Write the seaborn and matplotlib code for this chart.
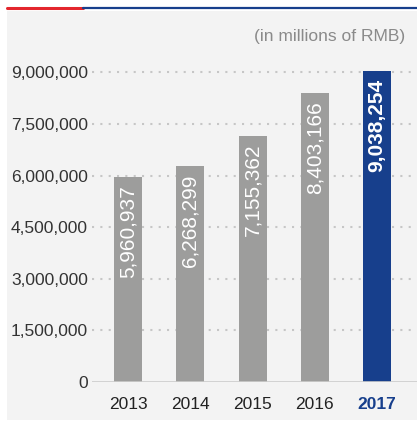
import matplotlib
matplotlib.use("Agg")
import matplotlib.pyplot as plt
import seaborn as sns
import pandas as pd
from matplotlib.patches import Rectangle
from matplotlib.lines import Line2D

# chart data
years = ["2013", "2014", "2015", "2016", "2017"]
values = [5960937, 6268299, 7155362, 8403166, 9038254]
y_ticks = [0, 1500000, 3000000, 4500000, 6000000, 7500000, 9000000]

grey = "#9d9d9c"
blue = "#173f8c"
red = "#e3262d"

sns.set_theme(style="white")
plt.rcParams["font.family"] = ["Liberation Sans", "DejaVu Sans"]

df = pd.DataFrame({"year": years, "value": values})
colors = {y: (blue if y == "2017" else grey) for y in years}

fig = plt.figure(figsize=(4.17, 4.28), dpi=100, facecolor="white")
# background panel and top rule
fig.patches.append(Rectangle((7 / 417, 8 / 428), 410 / 417, 409 / 428,
                             transform=fig.transFigure, facecolor="#f3f3f3",
                             edgecolor="none", zorder=-5))
fig.lines.append(Line2D([7 / 417, 83 / 417], [1 - 8 / 428] * 2, transform=fig.transFigure,
                        color=red, lw=2.2, zorder=-4))
fig.lines.append(Line2D([83 / 417, 1.0], [1 - 8 / 428] * 2, transform=fig.transFigure,
                        color=blue, lw=1.6, zorder=-4))

ax = fig.add_axes([92 / 417, 46 / 428, 325 / 417, 320 / 428])
ax.set_zorder(2)
ax.set_facecolor("none")

sns.barplot(data=df, x="year", y="value", hue="year", palette=colors, legend=False,
            width=0.45, saturation=1, linewidth=0, edgecolor="none", ax=ax, zorder=3)

ax.set_xlim(-0.58, 4.64)
ax.set_ylim(0, 9300000)
ax.set_yticks(y_ticks)
ax.set_yticklabels([f"{v:,}" for v in y_ticks], fontsize=12.5, color="#333333")
ax.tick_params(axis="both", length=0)
ax.tick_params(axis="y", pad=3)
ax.tick_params(axis="x", pad=11)
ax.set_xlabel("")
ax.set_ylabel("")

for lbl in ax.get_xticklabels():
    lbl.set_fontsize(12.5)
    lbl.set_color("#222222")
    if lbl.get_text() == "2017":
        lbl.set_color(blue)
        lbl.set_fontweight("bold")

for s in ax.spines.values():
    s.set_visible(False)

# dotted gridlines
for v in y_ticks[1:]:
    ax.axhline(v, color="#c6c6c6", lw=1.5, ls=(0, (1, 3)), zorder=1)
ax.axhline(0, color="#cccccc", lw=1.2, zorder=4)

# value labels inside bars
for patch, year, val in zip(ax.patches, years, values):
    cx = patch.get_x() + patch.get_width() / 2
    ax.text(cx, val - 230000, f"{val:,}", rotation=90, ha="center", va="top",
            color="white", fontsize=15, zorder=5,
            fontweight="bold" if year == "2017" else "normal")

fig.text(405 / 417, 1 - 36 / 428, "(in millions of RMB)", ha="right", va="center",
         fontsize=12.5, color="#8a8a8a")

fig.savefig("out.png", dpi=100, facecolor="white")
